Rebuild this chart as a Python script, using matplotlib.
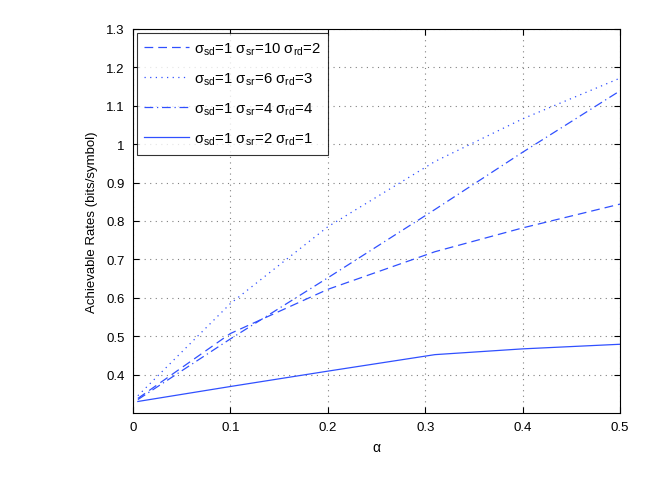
import matplotlib
matplotlib.use("Agg")
import matplotlib.pyplot as plt

plt.rcParams['font.family'] = ['Liberation Sans', 'DejaVu Sans']
plt.rcParams['mathtext.fontset'] = 'custom'
plt.rcParams['mathtext.rm'] = 'Liberation Sans'

alpha = [0.005, 0.1, 0.2, 0.31, 0.4, 0.5]
rate_10_2 = [0.338, 0.507, 0.622, 0.720, 0.782, 0.844]
rate_6_3 = [0.345, 0.585, 0.785, 0.955, 1.066, 1.172]
rate_4_4 = [0.335, 0.493, 0.652, 0.830, 0.979, 1.139]
rate_2_1 = [0.330, 0.369, 0.409, 0.452, 0.467, 0.479]

labels = [
    r'σ$_{\mathrm{sd}}$=1 σ$_{\mathrm{sr}}$=10 σ$_{\mathrm{rd}}$=2',
    r'σ$_{\mathrm{sd}}$=1 σ$_{\mathrm{sr}}$=6 σ$_{\mathrm{rd}}$=3',
    r'σ$_{\mathrm{sd}}$=1 σ$_{\mathrm{sr}}$=4 σ$_{\mathrm{rd}}$=4',
    r'σ$_{\mathrm{sd}}$=1 σ$_{\mathrm{sr}}$=2 σ$_{\mathrm{rd}}$=1',
]
xticks = [0, 0.1, 0.2, 0.3, 0.4, 0.5]
yticks = [0.4, 0.5, 0.6, 0.7, 0.8, 0.9, 1.0, 1.1, 1.2, 1.3]
ytick_labels = ['0.4', '0.5', '0.6', '0.7', '0.8', '0.9', '1', '1.1', '1.2', '1.3']
xtick_labels = ['0', '0.1', '0.2', '0.3', '0.4', '0.5']

color = '#3050ff'
fig = plt.figure(figsize=(6.57, 4.81), dpi=100)
ax = fig.add_axes([133/657, 1-414/481, 487/657, 384/481])

ax.plot(alpha, rate_10_2, color=color, lw=0.9, linestyle=(0, (7, 4)), label=labels[0])
ax.plot(alpha, rate_6_3, color=color, lw=0.9, linestyle=(0, (1, 3.5)), label=labels[1])
ax.plot(alpha, rate_4_4, color=color, lw=0.9, linestyle=(0, (7, 3, 1, 3)), label=labels[2])
ax.plot(alpha, rate_2_1, color=color, lw=0.9, linestyle='-', label=labels[3])

ax.set_xlim(0, 0.5)
ax.set_ylim(0.3, 1.3)
ax.set_xticks(xticks)
ax.set_xticklabels(xtick_labels)
ax.set_yticks(yticks)
ax.set_yticklabels(ytick_labels)
ax.tick_params(direction='in', length=4, width=0.8, top=True, right=True,
               labelsize=9.5, colors='black', pad=6)
ax.grid(True, linestyle=(0, (1, 4)), color='#808080', lw=0.8)
for s in ax.spines.values():
    s.set_linewidth(0.8)
    s.set_color('black')

ax.set_xlabel('α', fontsize=10, labelpad=5)
ax.set_ylabel('Achievable Rates (bits/symbol)', fontsize=9.5, labelpad=6)

leg = ax.legend(loc='upper left', fontsize=10.7, frameon=True, fancybox=False,
                edgecolor='black', handlelength=3.0, handletextpad=0.35,
                borderpad=0.5, labelspacing=0.9, borderaxespad=0.25)
leg.get_frame().set_linewidth(0.8)

fig.savefig('out.png', dpi=100)
